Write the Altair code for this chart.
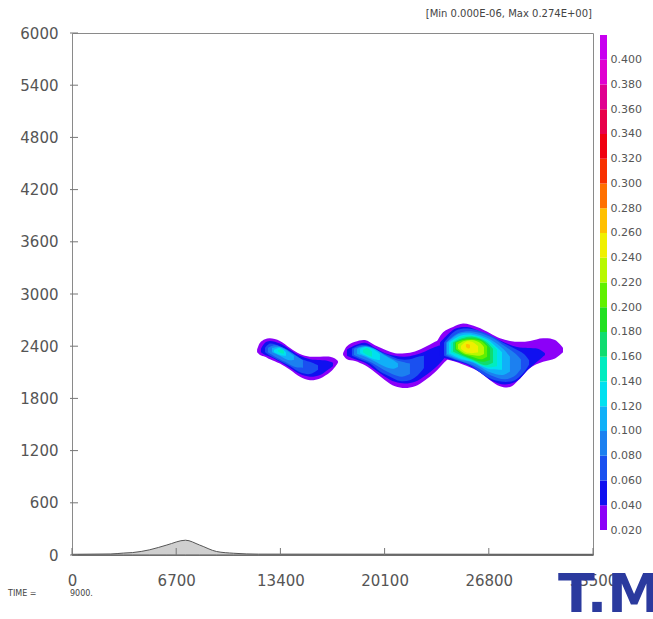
import altair as alt
import pandas as pd

# ---------------- data ----------------
X_TICKS = [0, 6700, 13400, 20100, 26800, 33500]
Y_TICKS = [0, 600, 1200, 1800, 2400, 3000, 3600, 4200, 4800, 5400, 6000]

LEVELS = [0.02, 0.04, 0.06, 0.08, 0.10, 0.12, 0.14, 0.16, 0.18, 0.20,
          0.22, 0.24, 0.26, 0.28, 0.30, 0.32, 0.34, 0.36, 0.38, 0.40]
LEVEL_TOPS = [0.04, 0.06, 0.08, 0.10, 0.12, 0.14, 0.16, 0.18, 0.20, 0.22,
              0.24, 0.26, 0.28, 0.30, 0.32, 0.34, 0.36, 0.38, 0.40, 0.42]
LEVEL_COLORS = ["#8c00f8", "#1010f0", "#1a50f0", "#1c80f0", "#10b0f8",
                "#00e0f0", "#00ecc0", "#10dc70", "#20e020", "#60f000",
                "#b8f800", "#f0f000", "#ffc000", "#ff7000", "#f83000",
                "#f00010", "#e8004a", "#e00090", "#e000d0", "#c800f0"]

TERRAIN_X = [0, 2500, 3300, 3900, 5000, 6100, 7300, 8200, 9300, 10400, 12000, 33500]
TERRAIN_H = [8, 12, 22, 28, 60, 115, 170, 115, 40, 20, 10, 8]

# contour bands: (x [m], upper edge z [m], lower edge z [m])
B1_02 = [(11900, 2360, 2330), (12090, 2440, 2300), (12410, 2480, 2280), (12730, 2490, 2250),
         (13370, 2460, 2200), (14020, 2380, 2130), (14660, 2310, 2050), (15300, 2280, 2010),
         (15950, 2280, 2030), (16590, 2280, 2100), (16910, 2260, 2160), (17100, 2230, 2210)]
B1_04 = [(12150, 2370, 2330), (12410, 2440, 2300), (12730, 2460, 2280), (13370, 2430, 2220),
         (14020, 2360, 2150), (14660, 2290, 2080), (15300, 2250, 2050), (15950, 2240, 2070),
         (16460, 2230, 2130), (16780, 2210, 2170)]
B1_06 = [(12410, 2380, 2330), (12730, 2430, 2290), (13370, 2400, 2230), (14020, 2330, 2170),
         (14660, 2260, 2100), (15300, 2220, 2080), (15820, 2180, 2130)]
B1_08 = [(12600, 2380, 2330), (13050, 2410, 2280), (13700, 2370, 2220), (14340, 2300, 2160),
         (14850, 2240, 2150)]
B1_10 = [(12860, 2380, 2330), (13370, 2390, 2290), (13890, 2340, 2240), (14270, 2290, 2240)]
B1_12 = [(12990, 2360, 2330), (13370, 2380, 2300), (13760, 2330, 2290)]
B1_14 = [(13250, 2355, 2340), (13440, 2365, 2320), (13630, 2345, 2315)]

B2_02 = [(17430, 2320, 2300), (17680, 2400, 2250), (18200, 2450, 2230), (18840, 2470, 2180),
         (19480, 2410, 2100), (20130, 2360, 2010), (20770, 2320, 1940), (21410, 2320, 1920),
         (22050, 2340, 1940), (22700, 2390, 2010), (23340, 2450, 2100), (23980, 2510, 2220),
         (24430, 2550, 2300)]
B2_04 = [(17680, 2360, 2290), (18200, 2410, 2250), (18840, 2440, 2210), (19480, 2380, 2130),
         (20130, 2320, 2050), (20770, 2290, 1990), (21410, 2280, 1970), (22050, 2300, 1990),
         (22700, 2340, 2060), (23340, 2390, 2150), (23790, 2410, 2230), (24050, 2380, 2290)]
B2_06 = [(18000, 2370, 2290), (18520, 2410, 2250), (19160, 2400, 2200), (19800, 2340, 2110),
         (20450, 2290, 2050), (21090, 2250, 2000), (21730, 2250, 2010), (22250, 2280, 2070),
         (22630, 2290, 2150)]
B2_08 = [(18130, 2370, 2300), (18650, 2400, 2260), (19290, 2380, 2210), (19930, 2320, 2140),
         (20580, 2260, 2080), (21220, 2220, 2050), (21730, 2200, 2080)]
B2_10 = [(18330, 2370, 2310), (18840, 2400, 2280), (19420, 2370, 2230), (20060, 2300, 2170),
         (20640, 2240, 2140), (20960, 2200, 2160)]
B2_12 = [(18520, 2370, 2320), (18900, 2390, 2290), (19420, 2360, 2250), (19800, 2310, 2240)]
B2_14 = [(18710, 2360, 2330), (18970, 2380, 2300), (19290, 2340, 2280)]

B3_02 = [(23340, 2410, 2280), (23860, 2560, 2260), (24500, 2620, 2230), (25140, 2660, 2190),
         (26040, 2620, 2120), (26880, 2550, 2010), (27520, 2490, 1940), (28160, 2460, 1930),
         (28810, 2450, 2030), (29450, 2460, 2150), (30290, 2490, 2220), (31060, 2470, 2260),
         (31570, 2380, 2330)]
B3_04 = [(23660, 2440, 2280), (24630, 2600, 2230), (25400, 2620, 2190), (26230, 2570, 2100),
         (27010, 2510, 2000), (27840, 2440, 1960), (28610, 2390, 2000), (29320, 2380, 2130),
         (29960, 2370, 2230), (30410, 2320, 2300)]
B3_06 = [(23920, 2440, 2290), (24690, 2580, 2240), (25590, 2600, 2180), (26750, 2540, 2040),
         (27710, 2440, 1990), (28480, 2370, 2010), (29060, 2310, 2100), (29390, 2240, 2190)]
B3_08 = [(24050, 2440, 2300), (24820, 2550, 2240), (25780, 2570, 2180), (26880, 2510, 2070),
         (27840, 2400, 2020), (28480, 2320, 2060), (28870, 2250, 2140)]
B3_10 = [(24110, 2440, 2310), (24880, 2540, 2250), (25780, 2550, 2210), (26880, 2480, 2100),
         (27710, 2370, 2070), (28160, 2280, 2110)]
B3_12 = [(24240, 2440, 2320), (24950, 2520, 2260), (25780, 2530, 2220), (26750, 2470, 2140),
         (27650, 2330, 2130)]
B3_14 = [(24370, 2440, 2330), (25010, 2510, 2280), (25780, 2520, 2230), (26620, 2470, 2160),
         (27330, 2360, 2170)]
B3_16 = [(24500, 2440, 2340), (25080, 2490, 2290), (25780, 2510, 2240), (26560, 2460, 2180),
         (27070, 2370, 2210)]
B3_18 = [(24630, 2440, 2360), (25140, 2480, 2300), (25780, 2490, 2250), (26430, 2460, 2220),
         (26880, 2380, 2240)]
B3_20 = [(24690, 2440, 2370), (25140, 2470, 2310), (25720, 2480, 2280), (26300, 2460, 2250),
         (26690, 2400, 2280)]
B3_22 = [(24820, 2420, 2370), (25210, 2460, 2320), (25720, 2470, 2300), (26230, 2440, 2290),
         (26490, 2390, 2310)]
B3_24 = [(25010, 2400, 2370), (25330, 2450, 2330), (25720, 2450, 2320), (26110, 2400, 2330)]
B3_26 = [(25330, 2420, 2390), (25460, 2425, 2375), (25590, 2415, 2380)]

BANDS = [
    ("b1", 0.02, B1_02), ("b1", 0.04, B1_04), ("b1", 0.06, B1_06), ("b1", 0.08, B1_08),
    ("b1", 0.10, B1_10), ("b1", 0.12, B1_12), ("b1", 0.14, B1_14),
    ("b2", 0.02, B2_02), ("b2", 0.04, B2_04), ("b2", 0.06, B2_06), ("b2", 0.08, B2_08),
    ("b2", 0.10, B2_10), ("b2", 0.12, B2_12), ("b2", 0.14, B2_14),
    ("b3", 0.02, B3_02), ("b3", 0.04, B3_04), ("b3", 0.06, B3_06), ("b3", 0.08, B3_08),
    ("b3", 0.10, B3_10), ("b3", 0.12, B3_12), ("b3", 0.14, B3_14), ("b3", 0.16, B3_16),
    ("b3", 0.18, B3_18), ("b3", 0.20, B3_20), ("b3", 0.22, B3_22), ("b3", 0.24, B3_24),
    ("b3", 0.26, B3_26),
]

MINMAX_TEXT = "[Min 0.000E-06, Max 0.274E+00]"
TIME_LABEL = "TIME ="
TIME_VALUE = "9000."
MARK_TEXT = "T.M"

# ---------------- chart ----------------
W, H = 521, 522
FONT = "DejaVu Sans"
LABEL_COLOR = "#555555"

rows = []
for blob, lev, pts in BANDS:
    for x, top, bot in pts:
        rows.append({"blob": blob, "level": lev, "x": x, "top": top, "bot": bot})
band_df = pd.DataFrame(rows)

X_SCALE = alt.Scale(domain=[0, 33500], nice=False, zero=False)
Y_SCALE = alt.Scale(domain=[0, 6000], nice=False, zero=False)
C_SCALE = alt.Scale(domain=LEVELS, range=LEVEL_COLORS)

X_AXIS = alt.Axis(values=X_TICKS, title=None, labelFlush=False, ticks=False, tickSize=0,
                  domain=False, grid=False, labelPadding=18, labelFontSize=15,
                  labelFont=FONT, labelColor=LABEL_COLOR, labelOverlap=False, format="d")
Y_AXIS = alt.Axis(values=Y_TICKS, title=None, ticks=False, tickSize=0, domain=False,
                  grid=False, labelPadding=14, labelFontSize=15, labelFont=FONT,
                  labelColor=LABEL_COLOR, labelOverlap=False, format="d")

band_layers = []
used_levels = sorted(band_df["level"].unique())
for lev in used_levels:
    sub = band_df[band_df["level"] == lev]
    band_layers.append(
        alt.Chart(sub).mark_area(interpolate="catmull-rom").encode(
            x=alt.X("x:Q", scale=X_SCALE, axis=X_AXIS),
            y=alt.Y("top:Q", scale=Y_SCALE, axis=Y_AXIS, stack=None),
            y2="bot:Q",
            color=alt.Color("level:O", scale=C_SCALE, legend=None),
            detail="blob:N",
        )
    )

terrain_df = pd.DataFrame({"x": TERRAIN_X, "h": TERRAIN_H})
terrain = alt.Chart(terrain_df).mark_area(
    interpolate="monotone", fill="#cfcfcf", stroke="#555555", strokeWidth=1
).encode(
    x=alt.X("x:Q", scale=X_SCALE, axis=X_AXIS),
    y=alt.Y("h:Q", scale=Y_SCALE, axis=Y_AXIS, stack=None),
)

xt = alt.Chart(pd.DataFrame({"v": X_TICKS})).mark_rule(color="#777777").encode(
    x=alt.X("v:Q", scale=X_SCALE, axis=X_AXIS),
    y=alt.value(H - 7), y2=alt.value(H),
)
yt = alt.Chart(pd.DataFrame({"v": Y_TICKS})).mark_rule(color="#777777").encode(
    y=alt.Y("v:Q", scale=Y_SCALE, axis=Y_AXIS),
    x=alt.value(-2), x2=alt.value(6),
)

inner = alt.layer(*band_layers, terrain, xt, yt)

cb_df = pd.DataFrame({"lo": LEVELS, "hi": LEVEL_TOPS, "level": LEVELS})
colorbar = alt.Chart(cb_df).mark_rect().encode(
    x=alt.value(528), x2=alt.value(535),
    y=alt.Y("lo:Q", scale=alt.Scale(domain=[-0.0002, 0.4216], nice=False, zero=False),
            axis=alt.Axis(orient="right", offset=14, values=LEVELS, format=".3f", title=None,
                          ticks=False, tickSize=0, domain=False, grid=False, labelPadding=3,
                          labelFontSize=11, labelFont=FONT, labelColor=LABEL_COLOR,
                          labelOverlap=False)),
    y2="hi:Q",
    color=alt.Color("level:O", scale=C_SCALE, legend=None),
)

def label(text, x, y, size, align="left", color="#444444", weight="normal", baseline="middle"):
    return alt.Chart(pd.DataFrame({"t": [text]})).mark_text(
        align=align, baseline=baseline, fontSize=size, font=FONT, color=color,
        fontWeight=weight,
    ).encode(text="t:N", x=alt.value(x), y=alt.value(y))

minmax = label(MINMAX_TEXT, 520, -19, 10, align="right")
time_l = label(TIME_LABEL, -64, 561, 8)
time_v = label(TIME_VALUE, -2, 561, 8)
mark = label(MARK_TEXT, 486, 579, 54, color="#2b3a9e", weight="bold", baseline="alphabetic")

chart = alt.layer(inner, colorbar, minmax, time_l, time_v, mark).resolve_scale(
    y="independent"
).properties(
    width=W, height=H,
    padding={"left": 72, "top": 33, "right": 60, "bottom": 64},
    autosize=alt.AutoSizeParams(type="none"),
    background="white",
).configure_view(stroke="#8a8a8a", strokeWidth=1)

chart.save("out.html", embed_options={"renderer": "svg", "actions": False})
